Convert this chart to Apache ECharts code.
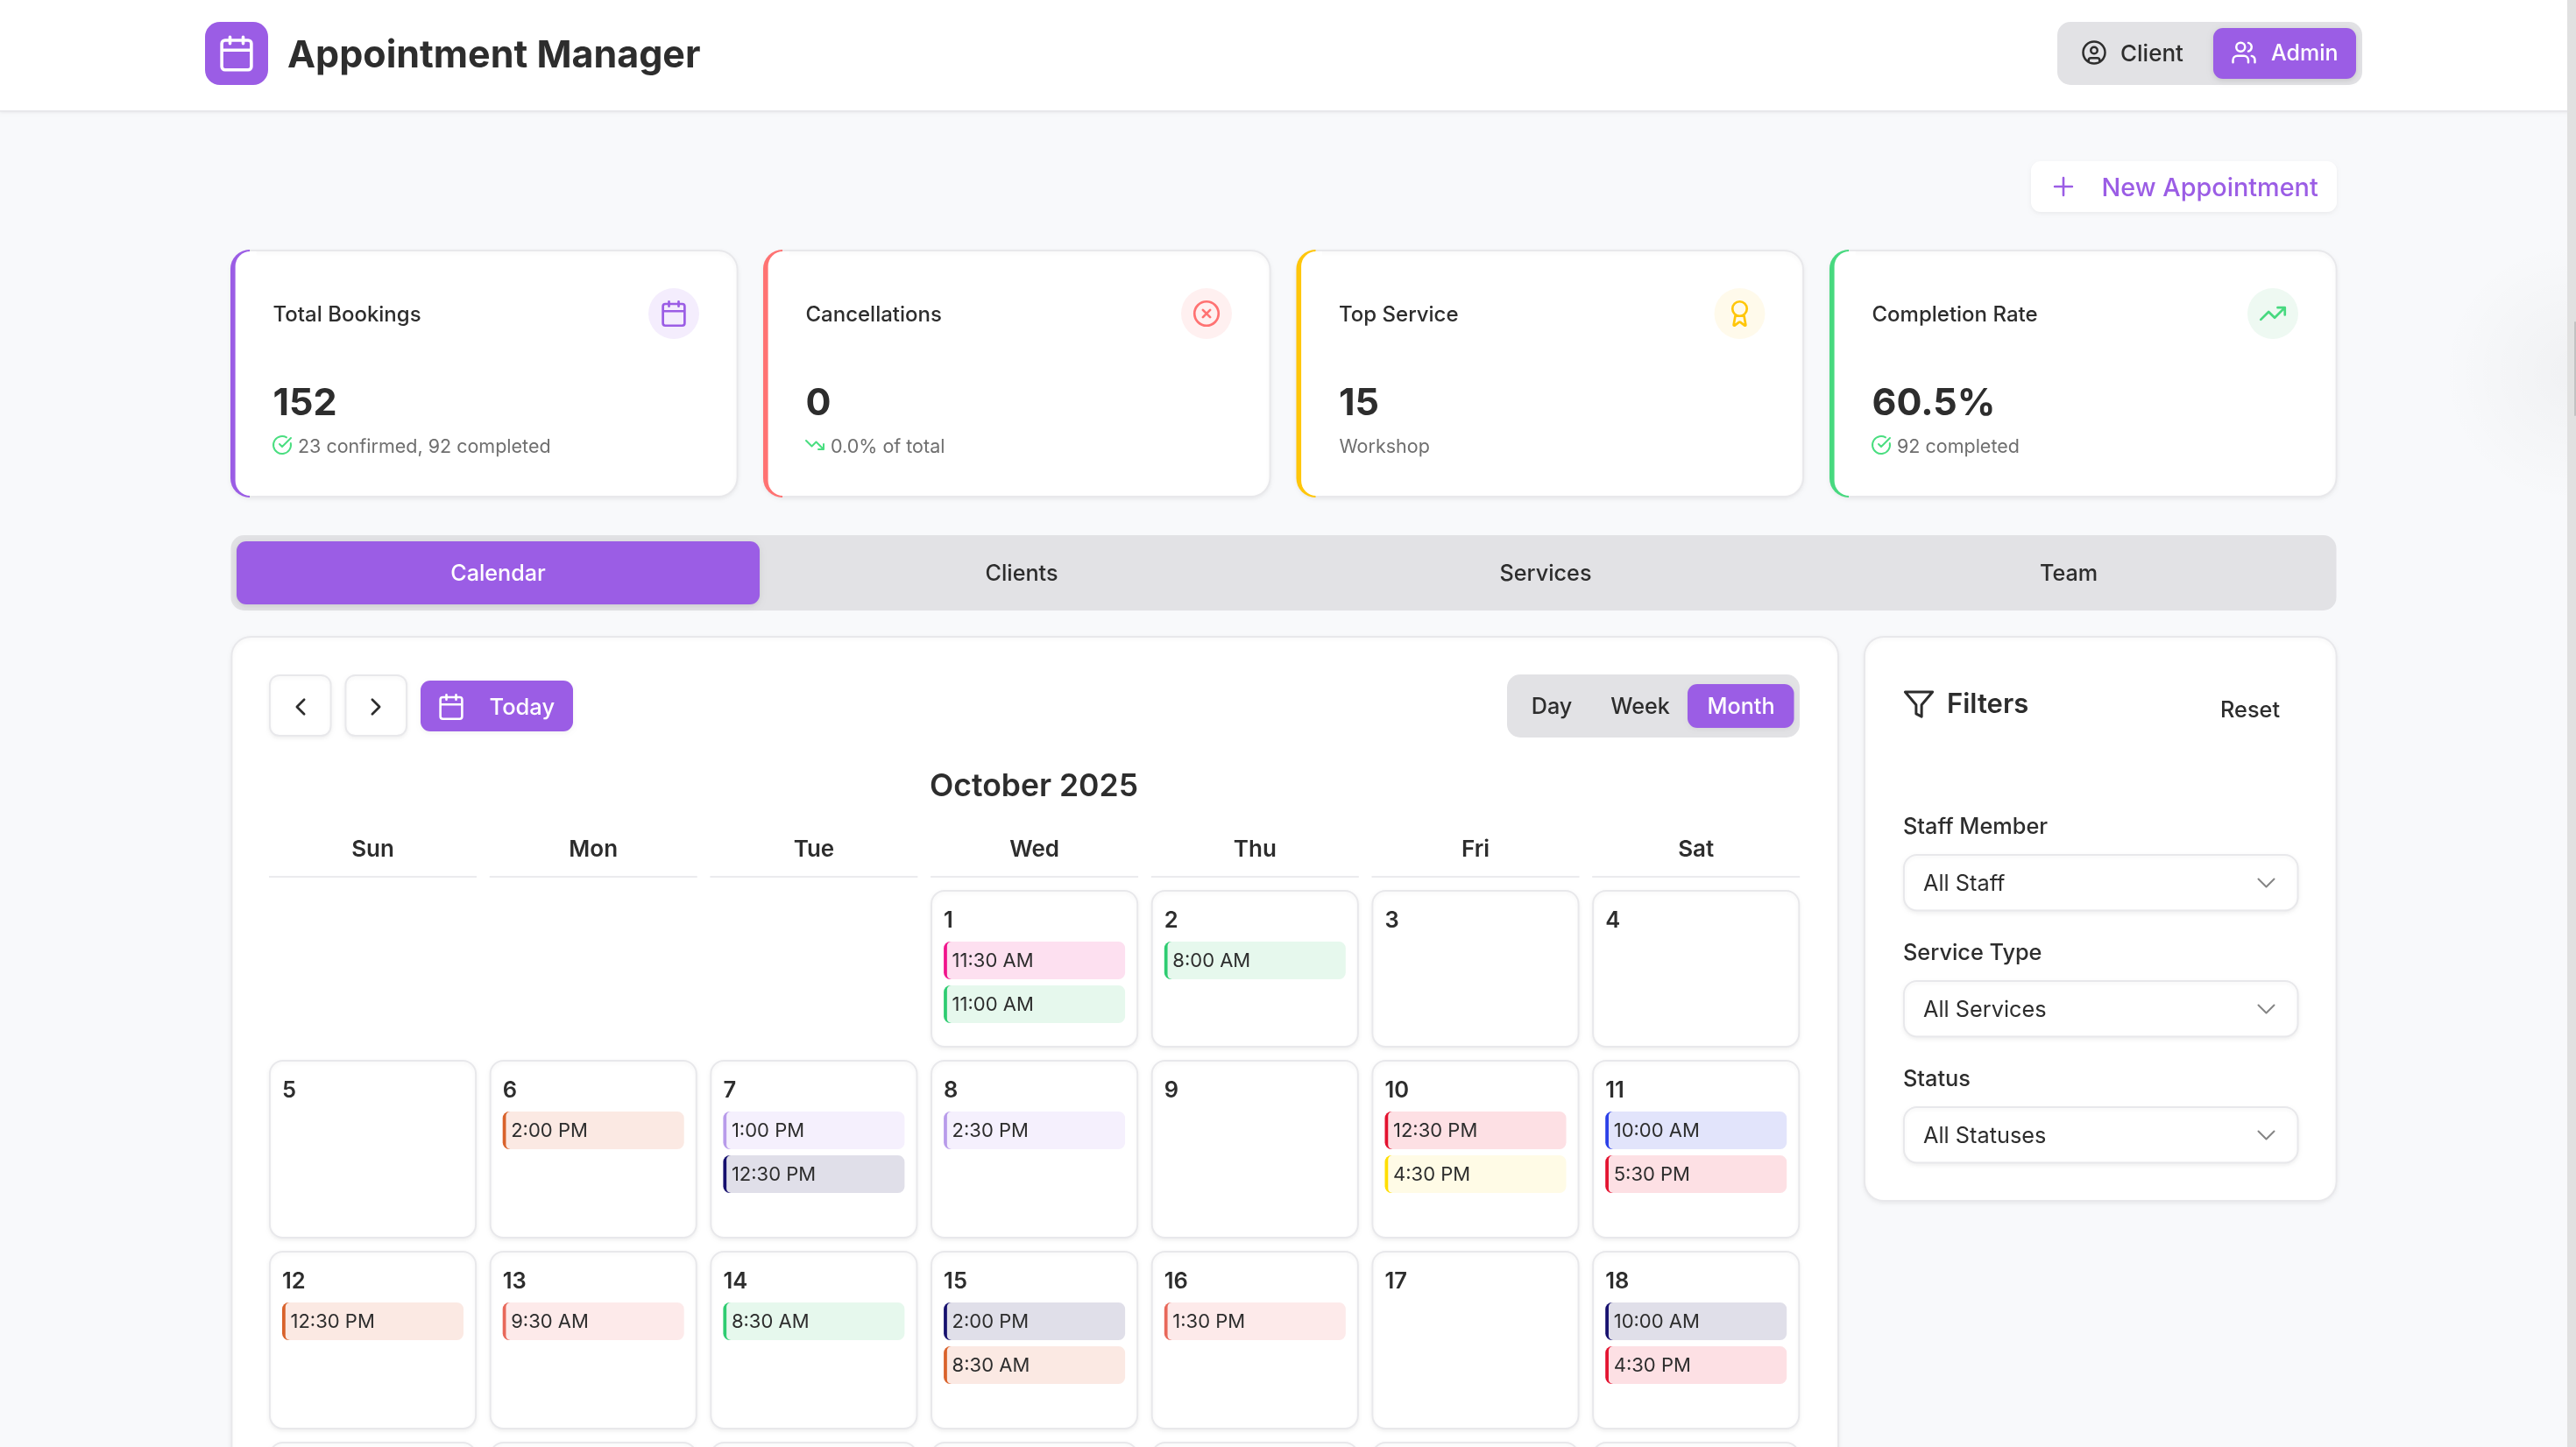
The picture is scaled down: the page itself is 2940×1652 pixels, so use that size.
<!DOCTYPE html>
<html>
<head>
<meta charset="utf-8">
<title>Appointment Manager</title>
<script src="https://cdn.jsdelivr.net/npm/echarts@6/dist/echarts.min.js"></script>
<style>
  html, body { margin: 0; padding: 0; background: #f8f9fb; }
  #chart { width: 2940px; height: 1652px; }
</style>
</head>
<body>
<div id="chart"></div>
<script>
// calendar content
const monthTitle = 'October 2025';
const weekdays = ['Sun', 'Mon', 'Tue', 'Wed', 'Thu', 'Fri', 'Sat'];
const firstWeekday = 3;
const monthDays = [1, 2, 3, 4, 5, 6, 7, 8, 9, 10, 11, 12, 13, 14, 15, 16, 17, 18, 19, 20, 21, 22, 23, 24, 25, 26, 27, 28, 29, 30, 31];
const eventDays = [1, 1, 2, 6, 7, 7, 8, 10, 10, 11, 11, 12, 13, 14, 15, 15, 16, 18, 18];
const eventTimes = ['11:30 AM', '11:00 AM', '8:00 AM', '2:00 PM', '1:00 PM', '12:30 PM', '2:30 PM', '12:30 PM', '4:30 PM', '10:00 AM', '5:30 PM', '12:30 PM', '9:30 AM', '8:30 AM', '2:00 PM', '8:30 AM', '1:30 PM', '10:00 AM', '4:30 PM'];
const eventKinds = ['pink', 'green', 'green', 'orange', 'lilac', 'navy', 'lilac', 'red', 'yellow', 'blue', 'red', 'orange', 'salmon', 'green', 'navy', 'orange', 'salmon', 'navy', 'red'];

// summary cards
const statLabels = ['Total Bookings', 'Cancellations', 'Top Service', 'Completion Rate'];
const statValues = ['152', '0', '15', '60.5%'];
const statNotes = ['23 confirmed, 92 completed', '0.0% of total', 'Workshop', '92 completed'];

// navigation and filters
const tabs = ['Calendar', 'Clients', 'Services', 'Team'];
const viewModes = ['Day', 'Week', 'Month'];
const filterLabels = ['Staff Member', 'Service Type', 'Status'];
const filterValues = ['All Staff', 'All Services', 'All Statuses'];

// styles
const PURPLE = '#9b5de5';
const INK = '#2d2d2d';
const MUTED = '#6f6f6f';
const EDGE = '#e8e8eb';
const TRACK = '#e2e2e5';
const FONT = 'Inter';
const kindColors = {
  pink: ['#f0148c', '#fde0f0'],
  green: ['#2ecc71', '#e6f8ed'],
  orange: ['#d9622b', '#fbe9e3'],
  lilac: ['#b89bea', '#f5f0fd'],
  navy: ['#16106e', '#e0dfe9'],
  red: ['#e3122f', '#fde0e4'],
  yellow: ['#ffde00', '#fffbe6'],
  blue: ['#2a3fe8', '#e2e4fb'],
  salmon: ['#e8685a', '#fdeaea']
};
const statColors = ['#9b5de5', '#ff7272', '#ffc60a', '#47d97f'];
const statTints = ['#f4edfd', '#fff0f0', '#fffaeb', '#eef9f2'];
const NOTE_GREEN = '#4ade80';

const CIRCLE = 'M2 12a10 10 0 1 0 20 0a10 10 0 1 0-20 0';
const glyphs = {
  calendar: 'M8 2v4M16 2v4M5 4h14a2 2 0 0 1 2 2v14a2 2 0 0 1-2 2H5a2 2 0 0 1-2-2V6a2 2 0 0 1 2-2zM3 10h18',
  client: CIRCLE + 'M9 10a3 3 0 1 0 6 0a3 3 0 1 0-6 0M7 20.662V19a2 2 0 0 1 2-2h6a2 2 0 0 1 2 2v1.662',
  admin: 'M16 21v-2a4 4 0 0 0-4-4H6a4 4 0 0 0-4 4v2M5 7a4 4 0 1 0 8 0a4 4 0 1 0-8 0M22 21v-2a4 4 0 0 0-3-3.87M16 3.13a4 4 0 0 1 0 7.75',
  plus: 'M5 12h14M12 5v14',
  check: 'M21.801 10A10 10 0 1 1 17 3.335M9 11l3 3L22 4',
  trendDown: 'M22 17L13.5 8.5L8.5 13.5L2 7M16 17h6v-6',
  trendUp: 'M22 7L13.5 15.5L8.5 10.5L2 17M16 7h6v6',
  xCircle: CIRCLE + 'M15 9l-6 6M9 9l6 6',
  award: 'M6 8a6 6 0 1 0 12 0a6 6 0 1 0-12 0M15.477 12.89l1.515 8.526a.5.5 0 0 1-.81.47l-3.58-2.687a1 1 0 0 0-1.197 0l-3.586 2.686a.5.5 0 0 1-.81-.469l1.514-8.526',
  left: 'M15 18l-6-6l6-6',
  right: 'M9 18l6-6l-6-6',
  down: 'M6 9l6 6l6-6',
  filter: 'M22 3H2l8 9.46V19l4 2v-8.54L22 3z'
};

function rect(x, y, w, h, r, fill, extra) {
  return {
    type: 'rect', silent: true,
    shape: { x, y, width: w, height: h, r },
    style: Object.assign({ fill }, extra)
  };
}

// the inset keeps the stroke inside the box, as a css border would be
function box(x, y, w, h, r) {
  return rect(x + 0.95, y + 0.95, w - 1.9, h - 1.9, r, '#ffffff', cardStyle);
}

function label(text, x, y, size, weight, fill, align) {
  return {
    type: 'text', silent: true, x, y: y + size * 0.07,
    style: {
      text, fill, fontSize: size, fontWeight: weight, fontFamily: FONT,
      align: align || 'left', verticalAlign: 'middle',
      textAlign: align || 'left', textVerticalAlign: 'middle'
    }
  };
}

const softShadow = { shadowBlur: 4, shadowOffsetY: 2, shadowColor: 'rgba(0,0,0,0.05)' };
const cardStyle = Object.assign({ stroke: EDGE, lineWidth: 1.9 }, softShadow);

// page chrome, drawn behind the series
const chrome = [];
const icons = [];

chrome.push(rect(0, 0, 2940, 1652, 0, '#f8f9fb'));
chrome.push({
  type: 'circle', silent: true, shape: { cx: 2936, cy: 425, r: 150 },
  style: {
    fill: new echarts.graphic.RadialGradient(0.5, 0.5, 0.5, [
      { offset: 0, color: 'rgba(0,0,0,0.03)' },
      { offset: 1, color: 'rgba(0,0,0,0)' }
    ])
  }
});
chrome.push(rect(0, 0, 2940, 127, 0, '#ffffff', { shadowBlur: 4, shadowOffsetY: 1, shadowColor: 'rgba(0,0,0,0.08)' }));
chrome.push(rect(0, 126, 2940, 1.5, 0, '#e6e6ea'));
chrome.push(rect(2930, 0, 10, 1652, 0, '#e1e1e1'));
chrome.push(rect(2938, 367, 2, 108, 1, '#c2c2c2'));

// header
chrome.push(rect(234, 25, 72, 72, 17, PURPLE));
icons.push({ name: 'calendar', cx: 270, cy: 61, size: 45, width: 3.6, color: '#ffffff' });
chrome.push(label('Appointment Manager', 328, 61, 43, 700, INK));

chrome.push(rect(2348, 25, 348, 72, 15, TRACK));
icons.push({ name: 'client', cx: 2390, cy: 60, size: 30, width: 2.5, color: INK });
chrome.push(label('Client', 2420, 60, 26, 500, INK));
chrome.push(rect(2526, 32, 163, 58, 11, PURPLE, { shadowBlur: 6, shadowOffsetY: 2, shadowColor: 'rgba(0,0,0,0.12)' }));
icons.push({ name: 'admin', cx: 2561, cy: 60, size: 30, width: 2.5, color: '#ffffff' });
chrome.push(label('Admin', 2592, 60, 25, 500, '#ffffff'));

chrome.push(rect(2318, 184, 349, 58, 11, '#ffffff', softShadow));
icons.push({ name: 'plus', cx: 2355, cy: 213, size: 34, width: 2.6, color: PURPLE });
chrome.push(label('New Appointment', 2398.5, 213, 28.8, 500, PURPLE));

// summary cards
const CARD_X = [263, 871, 1479.5, 2088];
const noteGlyphs = ['check', 'trendDown', null, 'check'];
const cardGlyphs = ['calendar', 'xCircle', 'award', 'trendUp'];
statLabels.forEach((text, i) => {
  const x = CARD_X[i];
  chrome.push(box(x, 285, 579.5, 283, 22));
  chrome.push(rect(x, 285, 22, 283, [22, 0, 0, 22], statColors[i]));
  chrome.push(rect(x + 5.6, 286.9, 24, 279.2, [17, 0, 0, 17], '#ffffff'));
  chrome.push(label(text, x + 48.5, 358, 24, 500, INK));
  chrome.push(label(statValues[i], x + 48.5, 458, 43, 700, INK));
  chrome.push(label(statNotes[i], noteGlyphs[i] ? x + 77 : x + 49, 509, 21.5, 400, MUTED));
  chrome.push({
    type: 'circle', silent: true,
    shape: { cx: x + 506, cy: 358, r: 29 },
    style: { fill: statTints[i] }
  });
  icons.push({ name: cardGlyphs[i], cx: x + 506, cy: 358, size: 33, width: 2.7, color: statColors[i] });
  if (noteGlyphs[i]) {
    icons.push({ name: noteGlyphs[i], cx: x + 59, cy: 508, size: 24, width: 2, color: NOTE_GREEN });
  }
});

// tabs
chrome.push(rect(263.5, 611, 2403, 86, 15, TRACK));
chrome.push(rect(270, 618, 597, 72, 11, PURPLE, { shadowBlur: 6, shadowOffsetY: 2, shadowColor: 'rgba(0,0,0,0.1)' }));
const TAB_X = [568.5, 1166, 1764, 2361];
tabs.forEach((t, i) => {
  chrome.push(label(t, TAB_X[i], 654, 25.2, 500, i === 0 ? '#ffffff' : INK, 'center'));
});

// calendar panel
chrome.push(box(263.5, 726, 1835.5, 1200, 22));
chrome.push(box(307, 770, 71.5, 71, 11));
icons.push({ name: 'left', cx: 343, cy: 807, size: 33, width: 2.7, color: INK });
chrome.push(box(393.5, 770, 71.5, 71, 11));
icons.push({ name: 'right', cx: 429, cy: 807, size: 33, width: 2.7, color: INK });
chrome.push(rect(480, 777, 174, 58, 11, PURPLE, softShadow));
icons.push({ name: 'calendar', cx: 515, cy: 807, size: 33, width: 2.6, color: '#ffffff' });
chrome.push(label('Today', 558.5, 807, 25.5, 500, '#ffffff'));

chrome.push(rect(1720, 770, 334, 72, 15, TRACK));
chrome.push(rect(1926, 781, 121.5, 50, 11, PURPLE, softShadow));
const VIEW_X = [1771, 1872, 1987];
viewModes.forEach((v, i) => {
  chrome.push(label(v, VIEW_X[i], 806, 25.2, 500, i === 2 ? '#ffffff' : INK, 'center'));
});
chrome.push(label(monthTitle, 1180, 896, 35.5, 600, INK, 'center'));

// filters panel
chrome.push(box(2127, 726, 540.5, 646, 22));
icons.push({ name: 'filter', cx: 2190, cy: 804, size: 37.5, width: 3, color: INK });
chrome.push(label('Filters', 2222, 803, 31, 600, INK));
chrome.push(label('Reset', 2534, 810, 25.3, 500, INK));
const FILTER_Y = [975, 1119, 1263];
filterLabels.forEach((text, i) => {
  const y = FILTER_Y[i];
  chrome.push(label(text, 2172, y - 32, 25.3, 500, INK));
  chrome.push(box(2172, y, 451.5, 65.5, 15));
  chrome.push(label(filterValues[i], 2195, y + 32.5, 25.3, 400, INK));
  icons.push({ name: 'down', cx: 2586.5, cy: y + 33, size: 36, width: 2, color: '#858585' });
});

// layout of the month grid, in pixels relative to its bands
const GRID_TOP = 992;
const GRID_HEIGHT = 660;
const ROW_PITCH = 218;
const CELL_GAP = 14.7;
const ROW_GAP = 15;
const FIRST_ROW_INSET = 24;

function cellBox(api, col, row) {
  const center = api.coord([col, row + 0.5]);
  const band = api.size([1, 1]);
  const top = center[1] - band[1] / 2 + (row === 0 ? FIRST_ROW_INSET : 0);
  return {
    x: center[0] - band[0] / 2 + CELL_GAP / 2,
    y: top,
    width: band[0] - CELL_GAP,
    height: center[1] + band[1] / 2 - ROW_GAP - top,
    bandTop: center[1] - band[1] / 2
  };
}

function columnOf(day) { return (day - 1 + firstWeekday) % 7; }
function rowOf(day) { return Math.floor((day - 1 + firstWeekday) / 7); }

function renderRule(params, api) {
  const cell = cellBox(api, api.value(0), 0);
  return {
    type: 'rect', silent: true,
    shape: { x: cell.x, y: cell.bandTop + 8, width: cell.width, height: 2 },
    style: { fill: '#ebebee' }
  };
}

function renderCell(params, api) {
  const cell = cellBox(api, api.value(0), api.value(1));
  return {
    type: 'group', silent: true,
    children: [
      {
        type: 'rect',
        shape: { x: cell.x + 0.95, y: cell.y + 0.95, width: cell.width - 1.9, height: cell.height - 0.9, r: 15 },
        style: Object.assign({ fill: '#ffffff' }, cardStyle)
      },
      {
        type: 'text', x: cell.x + 15, y: cell.y + 35.2,
        style: {
          text: String(api.value(2)), fill: INK, fontSize: 25.5, fontWeight: 600, fontFamily: FONT,
          align: 'left', verticalAlign: 'middle', textAlign: 'left', textVerticalAlign: 'middle'
        }
      }
    ]
  };
}

function renderEvent(params, api) {
  const cell = cellBox(api, api.value(0), api.value(1));
  const colors = kindColors[eventKinds[params.dataIndex]];
  const x = cell.x + 15;
  const y = cell.y + 59 + api.value(2) * 50;
  const w = cell.width - 30;
  return {
    type: 'group', silent: true,
    children: [
      { type: 'rect', shape: { x, y, width: 14, height: 43, r: [7.5, 0, 0, 7.5] }, style: { fill: colors[0] } },
      { type: 'rect', shape: { x: x + 3.75, y, width: w - 3.75, height: 43, r: [5, 7.5, 7.5, 5] }, style: { fill: colors[1] } },
      {
        type: 'text', x: x + 9.5, y: y + 22.5,
        style: {
          text: eventTimes[params.dataIndex], fill: INK, fontSize: 22, fontWeight: 400, fontFamily: FONT,
          align: 'left', verticalAlign: 'middle', textAlign: 'left', textVerticalAlign: 'middle'
        }
      }
    ]
  };
}

function renderIcon(params) {
  const icon = icons[params.dataIndex];
  return {
    type: 'path', silent: true,
    shape: {
      pathData: 'M0 0M24 24' + glyphs[icon.name],
      x: icon.cx - icon.size / 2, y: icon.cy - icon.size / 2,
      width: icon.size, height: icon.size
    },
    style: { fill: 'none', stroke: icon.color, lineWidth: icon.width, lineCap: 'round', lineJoin: 'round' }
  };
}

const slotSeen = {};
const eventData = eventDays.map((day) => {
  const slot = slotSeen[day] || 0;
  slotSeen[day] = slot + 1;
  return [columnOf(day), rowOf(day), slot];
});

const chart = echarts.init(document.getElementById('chart'), null, { renderer: 'canvas' });
chart.setOption({
  animation: false,
  backgroundColor: '#f8f9fb',
  graphic: { elements: chrome },
  grid: { left: 299.65, top: GRID_TOP, width: 1761.9, height: GRID_HEIGHT, containLabel: false },
  xAxis: {
    type: 'category', data: weekdays, position: 'top', z: 5,
    axisLine: { show: false }, axisTick: { show: false }, splitLine: { show: false },
    axisLabel: {
      margin: 22, fontSize: 26, fontWeight: 600, fontFamily: FONT, color: INK,
      verticalAlign: 'middle', interval: 0
    }
  },
  // one unit is one calendar week; the page cuts the grid off after three and a bit
  yAxis: { type: 'value', min: 0, max: GRID_HEIGHT / ROW_PITCH, inverse: true, show: false },
  series: [
    {
      type: 'custom', name: 'rules', z: 2, clip: false, renderItem: renderRule,
      data: weekdays.map((d, i) => [i, 0.5])
    },
    {
      type: 'custom', name: 'days', z: 3, clip: false, renderItem: renderCell,
      data: monthDays.map((day) => [columnOf(day), rowOf(day), day])
    },
    {
      type: 'custom', name: 'events', z: 4, clip: false, renderItem: renderEvent,
      data: eventData
    },
    {
      type: 'custom', name: 'icons', z: 5, coordinateSystem: 'none', renderItem: renderIcon,
      data: icons.map((icon, i) => [i])
    }
  ]
});
</script>
</body>
</html>
